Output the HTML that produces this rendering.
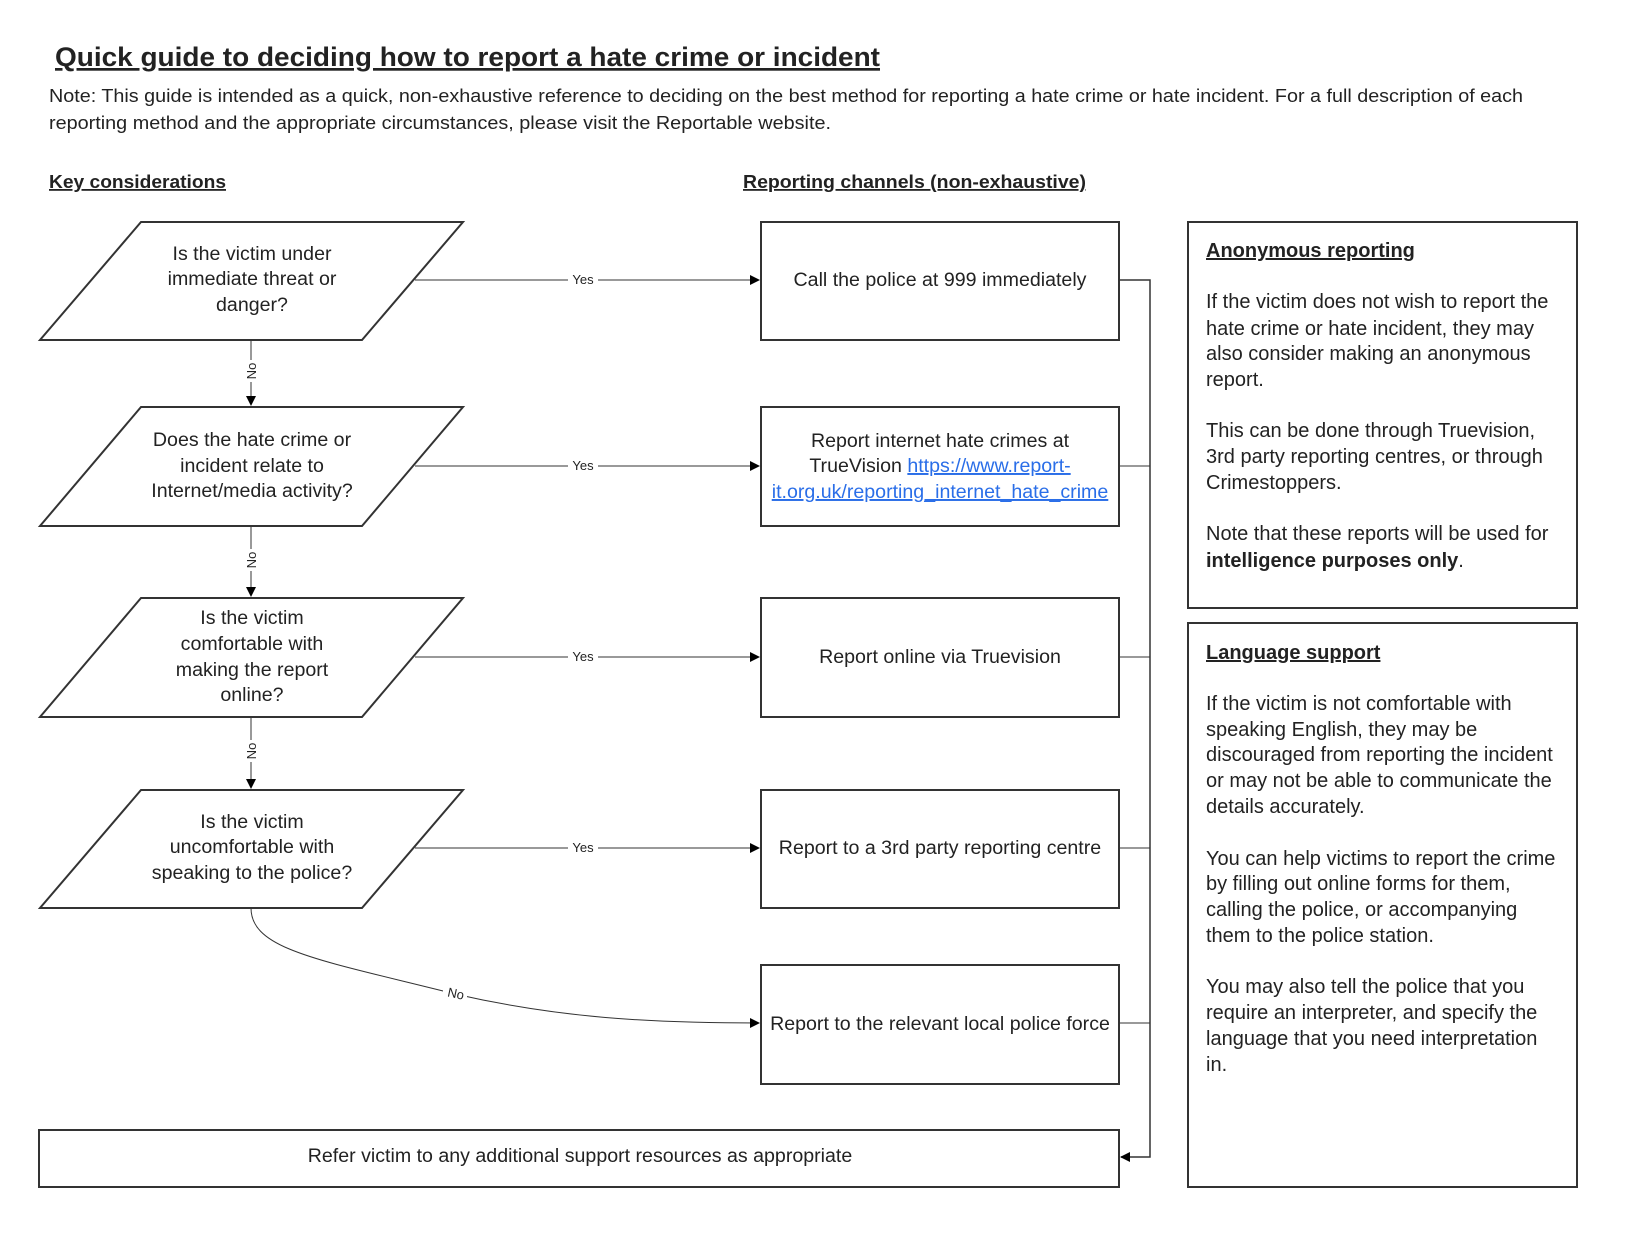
<!DOCTYPE html>
<html><head><meta charset="utf-8"><style>
html,body{margin:0;padding:0;background:#fff;}
svg{display:block;}
text{font-family:"Liberation Sans",Arial,sans-serif;fill:#222;}
</style></head><body>
<svg width="1644" height="1246" viewBox="0 0 1644 1246" xmlns="http://www.w3.org/2000/svg">
<defs>
<marker id="ah" markerWidth="10" markerHeight="10" refX="9" refY="5" orient="auto" markerUnits="userSpaceOnUse">
<path d="M0,0 L10,5 L0,10 z" fill="#000"/></marker>
</defs>
<text x="55" y="66" font-size="27" font-weight="bold" text-decoration="underline" textLength="825" lengthAdjust="spacingAndGlyphs">Quick guide to deciding how to report a hate crime or incident</text>
<text x="49" y="102" font-size="18.5" textLength="1474" lengthAdjust="spacingAndGlyphs">Note: This guide is intended as a quick, non-exhaustive reference to deciding on the best method for reporting a hate crime or hate incident. For a full description of each</text>
<text x="49" y="129" font-size="18.5" textLength="782" lengthAdjust="spacingAndGlyphs">reporting method and the appropriate circumstances, please visit the Reportable website.</text>
<text x="49" y="188" font-size="18" font-weight="bold" text-decoration="underline" textLength="177" lengthAdjust="spacingAndGlyphs">Key considerations</text>
<text x="743" y="188" font-size="18" font-weight="bold" text-decoration="underline" textLength="343" lengthAdjust="spacingAndGlyphs">Reporting channels (non-exhaustive)</text>

<g fill="#fff" stroke="#333" stroke-width="2">
<polygon points="141,222 463,222 362,340 40,340"/>
<polygon points="141,407 463,407 362,526 40,526"/>
<polygon points="141,598 463,598 362,717 40,717"/>
<polygon points="141,790 463,790 362,908 40,908"/>
<rect x="761" y="222" width="358" height="118"/>
<rect x="761" y="407" width="358" height="119"/>
<rect x="761" y="598" width="358" height="119"/>
<rect x="761" y="790" width="358" height="118"/>
<rect x="761" y="965" width="358" height="119"/>
<rect x="39" y="1130" width="1080" height="57"/>
<rect x="1188" y="222" width="389" height="386"/>
<rect x="1188" y="623" width="389" height="564"/>
</g>

<g stroke="#333" stroke-width="1" fill="none">
<line x1="415" y1="280" x2="759" y2="280" marker-end="url(#ah)"/>
<line x1="415" y1="466" x2="759" y2="466" marker-end="url(#ah)"/>
<line x1="415" y1="657" x2="759" y2="657" marker-end="url(#ah)"/>
<line x1="415" y1="848" x2="759" y2="848" marker-end="url(#ah)"/>
<line x1="251" y1="340" x2="251" y2="405" marker-end="url(#ah)"/>
<line x1="251" y1="526" x2="251" y2="596" marker-end="url(#ah)"/>
<line x1="251" y1="717" x2="251" y2="788" marker-end="url(#ah)"/>
<path d="M251,908 C251,950 320,960 455,994 C560,1018 650,1023 759,1023" marker-end="url(#ah)"/>
<path d="M1119,280 H1150 V1157 H1121" stroke-width="1.5" marker-end="url(#ah)"/>
<line x1="1119" y1="466" x2="1150" y2="466"/>
<line x1="1119" y1="657" x2="1150" y2="657"/>
<line x1="1119" y1="848" x2="1150" y2="848"/>
<line x1="1119" y1="1023" x2="1150" y2="1023"/>
</g>

<g font-size="13" text-anchor="middle">
<rect x="568" y="272" width="30" height="16" fill="#fff"/><text x="583" y="284">Yes</text>
<rect x="568" y="458" width="30" height="16" fill="#fff"/><text x="583" y="470">Yes</text>
<rect x="568" y="649" width="30" height="16" fill="#fff"/><text x="583" y="661">Yes</text>
<rect x="568" y="840" width="30" height="16" fill="#fff"/><text x="583" y="852">Yes</text>
<rect x="243" y="360" width="16" height="22" fill="#fff"/><text transform="translate(256,371) rotate(-90)">No</text>
<rect x="243" y="549" width="16" height="22" fill="#fff"/><text transform="translate(256,560) rotate(-90)">No</text>
<rect x="243" y="740" width="16" height="22" fill="#fff"/><text transform="translate(256,751) rotate(-90)">No</text>
<rect x="443" y="984" width="24" height="16" fill="#fff"/><text transform="translate(455,998) rotate(12)">No</text>
</g>

<g font-size="19.6" text-anchor="middle">
<text x="252" y="260">Is the victim under</text>
<text x="252" y="285">immediate threat or</text>
<text x="252" y="311">danger?</text>
<text x="252" y="446">Does the hate crime or</text>
<text x="252" y="472">incident relate to</text>
<text x="252" y="497">Internet/media activity?</text>
<text x="252" y="624">Is the victim</text>
<text x="252" y="650">comfortable with</text>
<text x="252" y="676">making the report</text>
<text x="252" y="701">online?</text>
<text x="252" y="828">Is the victim</text>
<text x="252" y="853">uncomfortable with</text>
<text x="252" y="879">speaking to the police?</text>
<text x="940" y="286">Call the police at 999 immediately</text>
<text x="940" y="447">Report internet hate crimes at</text>
<text x="940" y="472">TrueVision <tspan fill="#2a6ee8" text-decoration="underline" style="fill:#2a6ee8">https://www.report-</tspan></text>
<text x="940" y="498" text-decoration="underline" style="fill:#2a6ee8">it.org.uk/reporting_internet_hate_crime</text>
<text x="940" y="663">Report online via Truevision</text>
<text x="940" y="854">Report to a 3rd party reporting centre</text>
<text x="940" y="1030">Report to the relevant local police force</text>
<text x="580" y="1162">Refer victim to any additional support resources as appropriate</text>
</g>

<g font-size="20">
<text x="1206" y="257" font-weight="bold" text-decoration="underline">Anonymous reporting</text>
<text x="1206" y="308">If the victim does not wish to report the</text>
<text x="1206" y="335">hate crime or hate incident, they may</text>
<text x="1206" y="360">also consider making an anonymous</text>
<text x="1206" y="386">report.</text>
<text x="1206" y="437">This can be done through Truevision,</text>
<text x="1206" y="463">3rd party reporting centres, or through</text>
<text x="1206" y="489">Crimestoppers.</text>
<text x="1206" y="540">Note that these reports will be used for</text>
<text x="1206" y="567"><tspan font-weight="bold">intelligence purposes only</tspan>.</text>
<text x="1206" y="659" font-weight="bold" text-decoration="underline">Language support</text>
<text x="1206" y="710">If the victim is not comfortable with</text>
<text x="1206" y="736">speaking English, they may be</text>
<text x="1206" y="761">discouraged from reporting the incident</text>
<text x="1206" y="787">or may not be able to communicate the</text>
<text x="1206" y="813">details accurately.</text>
<text x="1206" y="865">You can help victims to report the crime</text>
<text x="1206" y="890">by filling out online forms for them,</text>
<text x="1206" y="916">calling the police, or accompanying</text>
<text x="1206" y="942">them to the police station.</text>
<text x="1206" y="993">You may also tell the police that you</text>
<text x="1206" y="1019">require an interpreter, and specify the</text>
<text x="1206" y="1045">language that you need interpretation</text>
<text x="1206" y="1071">in.</text>
</g>
</svg>
</body></html>
